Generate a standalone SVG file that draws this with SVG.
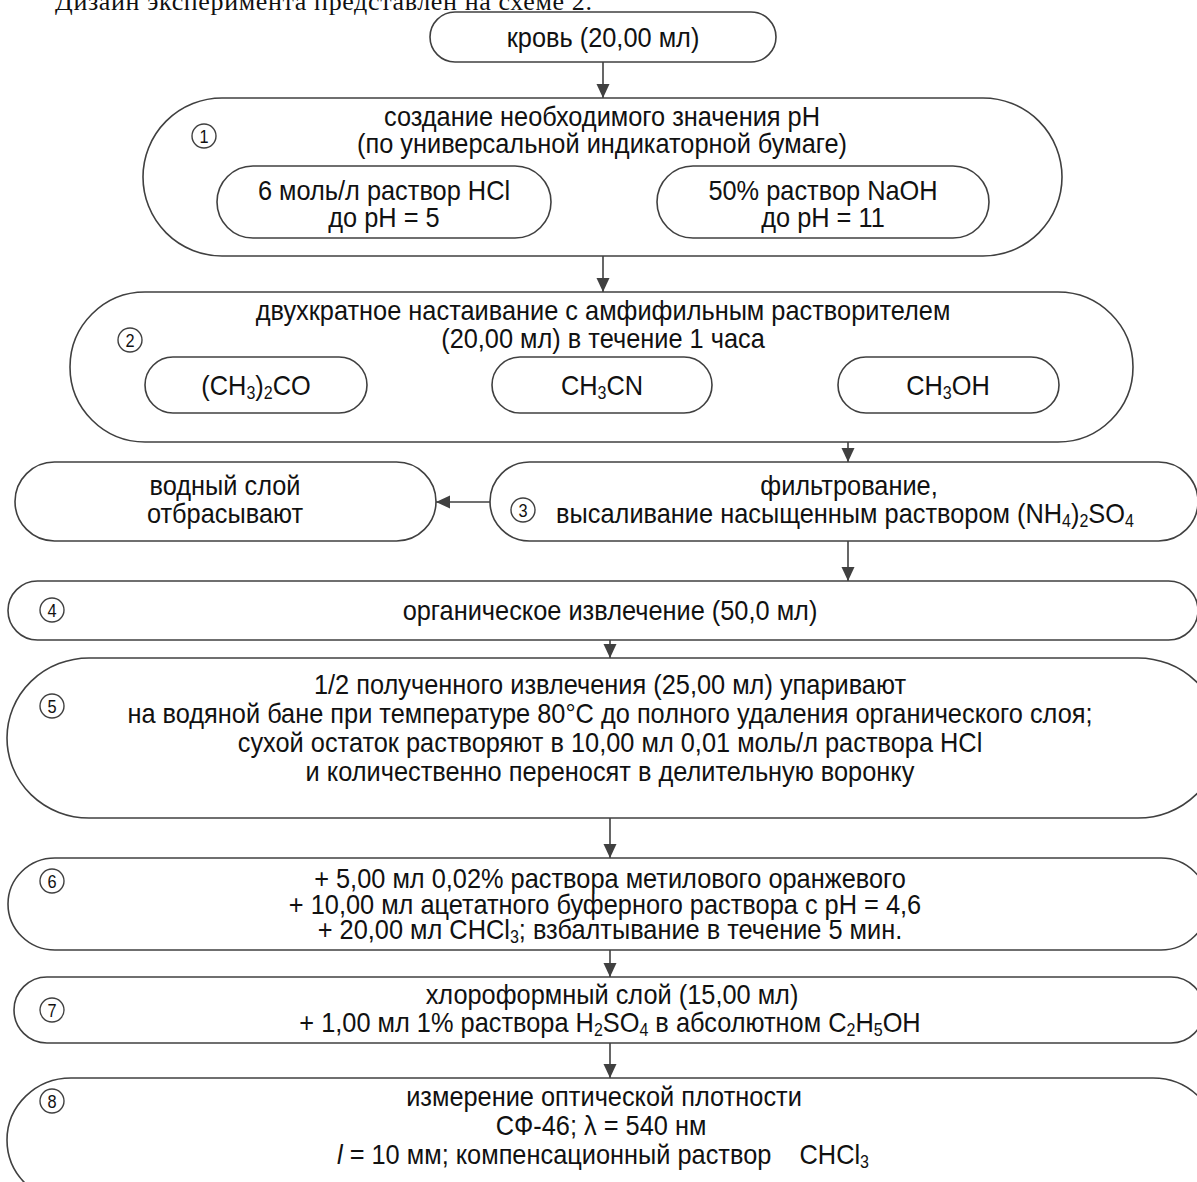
<svg xmlns="http://www.w3.org/2000/svg" width="1197" height="1182" viewBox="0 0 1197 1182">
<defs>
<marker id="a" markerUnits="userSpaceOnUse" markerWidth="14" markerHeight="14" refX="14" refY="6.5" orient="auto">
<path d="M0,0 L14,6.5 L0,13 Z" fill="#404040"/>
</marker>
<style>
.n{fill:#fff;stroke:#404040;stroke-width:1.6}
.t{font-family:"Liberation Sans",Arial,sans-serif;font-size:28.5px;fill:#111;text-anchor:middle}
.c{fill:#fff;stroke:#404040;stroke-width:1.4}
.cn{font-family:"Liberation Sans",Arial,sans-serif;font-size:19px;fill:#111;text-anchor:middle}
.e{stroke:#404040;stroke-width:1.6;fill:none;marker-end:url(#a)}
.s{font-size:18px}
</style>
</defs>
<rect width="1197" height="1182" fill="#fff"/>
<text x="55" y="10" font-family="Liberation Serif, Times New Roman, serif" font-size="26" fill="#111" textLength="537" lengthAdjust="spacing">Дизайн эксперимента представлен на схеме 2.</text>

<g id="connectors">
<line class="e" x1="603" y1="62" x2="603" y2="98"/>
<line class="e" x1="603" y1="256" x2="603" y2="292"/>
<line class="e" x1="848" y1="442" x2="848" y2="462"/>
<line class="e" x1="490" y1="502" x2="436" y2="502"/>
<line class="e" x1="848" y1="541" x2="848" y2="581"/>
<line class="e" x1="610" y1="640" x2="610" y2="658"/>
<line class="e" x1="610" y1="818" x2="610" y2="858"/>
<line class="e" x1="610" y1="950" x2="610" y2="977"/>
<line class="e" x1="610" y1="1043" x2="610" y2="1078"/>
</g>

<g id="n0">
<rect class="n" x="430" y="12" width="346" height="50" rx="25" ry="25"/>
<text class="t" transform="matrix(0.89 0 0 1 603 0)" y="47">кровь (20,00 мл)</text>
</g>

<g id="n1">
<rect class="n" x="143" y="98" width="919" height="158" rx="79" ry="79"/>
<circle class="c" cx="204" cy="136" r="12"/>
<text class="cn" transform="matrix(0.86 0 0 1 204 0)" y="143">1</text>
<text class="t" transform="matrix(0.89 0 0 1 602 0)" y="126">создание необходимого значения pH</text>
<text class="t" transform="matrix(0.89 0 0 1 602 0)" y="153">(по универсальной индикаторной бумаге)</text>
</g>
<g id="n1a">
<rect class="n" x="217" y="166" width="334" height="72" rx="36" ry="36"/>
<text class="t" transform="matrix(0.89 0 0 1 384 0)" y="200">6 моль/л раствор HCl</text>
<text class="t" transform="matrix(0.89 0 0 1 384 0)" y="227">до pH = 5</text>
</g>
<g id="n1b">
<rect class="n" x="657" y="166" width="332" height="72" rx="36" ry="36"/>
<text class="t" transform="matrix(0.89 0 0 1 823 0)" y="200">50% раствор NaOH</text>
<text class="t" transform="matrix(0.89 0 0 1 823 0)" y="227">до pH = 11</text>
</g>

<g id="n2">
<rect class="n" x="70" y="292" width="1063" height="150" rx="75" ry="75"/>
<circle class="c" cx="130" cy="340" r="12"/>
<text class="cn" transform="matrix(0.86 0 0 1 130 0)" y="347">2</text>
<text class="t" transform="matrix(0.89 0 0 1 603 0)" y="320">двухкратное настаивание с амфифильным растворителем</text>
<text class="t" transform="matrix(0.89 0 0 1 603 0)" y="348">(20,00 мл) в течение 1 часа</text>
</g>
<g id="n2a">
<rect class="n" x="145" y="357" width="222" height="56" rx="28" ry="28"/>
<text class="t" transform="matrix(0.89 0 0 1 256 0)" y="395">(CH<tspan class="s" dy="4">3</tspan><tspan dy="-4">)</tspan><tspan class="s" dy="4">2</tspan><tspan dy="-4">CO</tspan></text>
</g>
<g id="n2b">
<rect class="n" x="492" y="357" width="220" height="56" rx="28" ry="28"/>
<text class="t" transform="matrix(0.89 0 0 1 602 0)" y="395">CH<tspan class="s" dy="4">3</tspan><tspan dy="-4">CN</tspan></text>
</g>
<g id="n2c">
<rect class="n" x="838" y="357" width="221" height="56" rx="28" ry="28"/>
<text class="t" transform="matrix(0.89 0 0 1 948 0)" y="395">CH<tspan class="s" dy="4">3</tspan><tspan dy="-4">OH</tspan></text>
</g>

<g id="nw">
<rect class="n" x="15" y="462" width="421" height="79" rx="39.5" ry="39.5"/>
<text class="t" transform="matrix(0.89 0 0 1 225 0)" y="495">водный слой</text>
<text class="t" transform="matrix(0.89 0 0 1 225 0)" y="523">отбрасывают</text>
</g>

<g id="n3">
<rect class="n" x="490" y="462" width="708" height="79" rx="39.5" ry="39.5"/>
<circle class="c" cx="523" cy="510" r="12"/>
<text class="cn" transform="matrix(0.86 0 0 1 523 0)" y="517">3</text>
<text class="t" transform="matrix(0.89 0 0 1 849 0)" y="495">фильтрование,</text>
<text class="t" transform="matrix(0.89 0 0 1 845 0)" y="523">высаливание насыщенным раствором (NH<tspan class="s" dy="4">4</tspan><tspan dy="-4">)</tspan><tspan class="s" dy="4">2</tspan><tspan dy="-4">SO</tspan><tspan class="s" dy="4">4</tspan></text>
</g>

<g id="n4">
<rect class="n" x="8" y="581" width="1190" height="59" rx="29.5" ry="29.5"/>
<circle class="c" cx="52" cy="610" r="12"/>
<text class="cn" transform="matrix(0.86 0 0 1 52 0)" y="617">4</text>
<text class="t" transform="matrix(0.89 0 0 1 610 0)" y="620">органическое извлечение (50,0 мл)</text>
</g>

<g id="n5">
<rect class="n" x="7" y="658" width="1213" height="160" rx="82" ry="80"/>
<circle class="c" cx="52" cy="706" r="12"/>
<text class="cn" transform="matrix(0.86 0 0 1 52 0)" y="713">5</text>
<text class="t" transform="matrix(0.89 0 0 1 610 0)" y="694">1/2 полученного извлечения (25,00 мл) упаривают</text>
<text class="t" transform="matrix(0.89 0 0 1 610 0)" y="723">на водяной бане при температуре 80°C до полного удаления органического слоя;</text>
<text class="t" transform="matrix(0.89 0 0 1 610 0)" y="752">сухой остаток растворяют в 10,00 мл 0,01 моль/л раствора HCl</text>
<text class="t" transform="matrix(0.89 0 0 1 610 0)" y="781">и количественно переносят в делительную воронку</text>
</g>

<g id="n6">
<rect class="n" x="8" y="858" width="1200" height="92" rx="47" ry="46"/>
<circle class="c" cx="52" cy="881" r="12"/>
<text class="cn" transform="matrix(0.86 0 0 1 52 0)" y="888">6</text>
<text class="t" transform="matrix(0.89 0 0 1 610 0)" y="888">+ 5,00 мл 0,02% раствора метилового оранжевого</text>
<text class="t" transform="matrix(0.89 0 0 1 605 0)" y="914">+ 10,00 мл ацетатного буферного раствора с pH = 4,6</text>
<text class="t" transform="matrix(0.89 0 0 1 610 0)" y="939">+ 20,00 мл CHCl<tspan class="s" dy="4">3</tspan><tspan dy="-4">; взбалтывание в течение 5 мин.</tspan></text>
</g>

<g id="n7">
<rect class="n" x="14" y="977" width="1190" height="66" rx="33" ry="33"/>
<circle class="c" cx="52" cy="1010" r="12"/>
<text class="cn" transform="matrix(0.86 0 0 1 52 0)" y="1017">7</text>
<text class="t" transform="matrix(0.89 0 0 1 612 0)" y="1004">хлороформный слой (15,00 мл)</text>
<text class="t" transform="matrix(0.89 0 0 1 610 0)" y="1032">+ 1,00 мл 1% раствора H<tspan class="s" dy="4">2</tspan><tspan dy="-4">SO</tspan><tspan class="s" dy="4">4</tspan><tspan dy="-4"> в абсолютном C</tspan><tspan class="s" dy="4">2</tspan><tspan dy="-4">H</tspan><tspan class="s" dy="4">5</tspan><tspan dy="-4">OH</tspan></text>
</g>

<g id="n8">
<rect class="n" x="7" y="1078" width="1210" height="124" rx="64" ry="62"/>
<circle class="c" cx="52" cy="1101" r="12"/>
<text class="cn" transform="matrix(0.86 0 0 1 52 0)" y="1108">8</text>
<text class="t" transform="matrix(0.89 0 0 1 604 0)" y="1106">измерение оптической плотности</text>
<text class="t" transform="matrix(0.89 0 0 1 601 0)" y="1135">СФ-46; λ = 540 нм</text>
<text class="t" transform="matrix(0.89 0 0 1 603 0)" y="1164" xml:space="preserve"><tspan font-style="italic">l</tspan> = 10 мм; компенсационный раствор    CHCl<tspan class="s" dy="4">3</tspan></text>
</g>
</svg>
